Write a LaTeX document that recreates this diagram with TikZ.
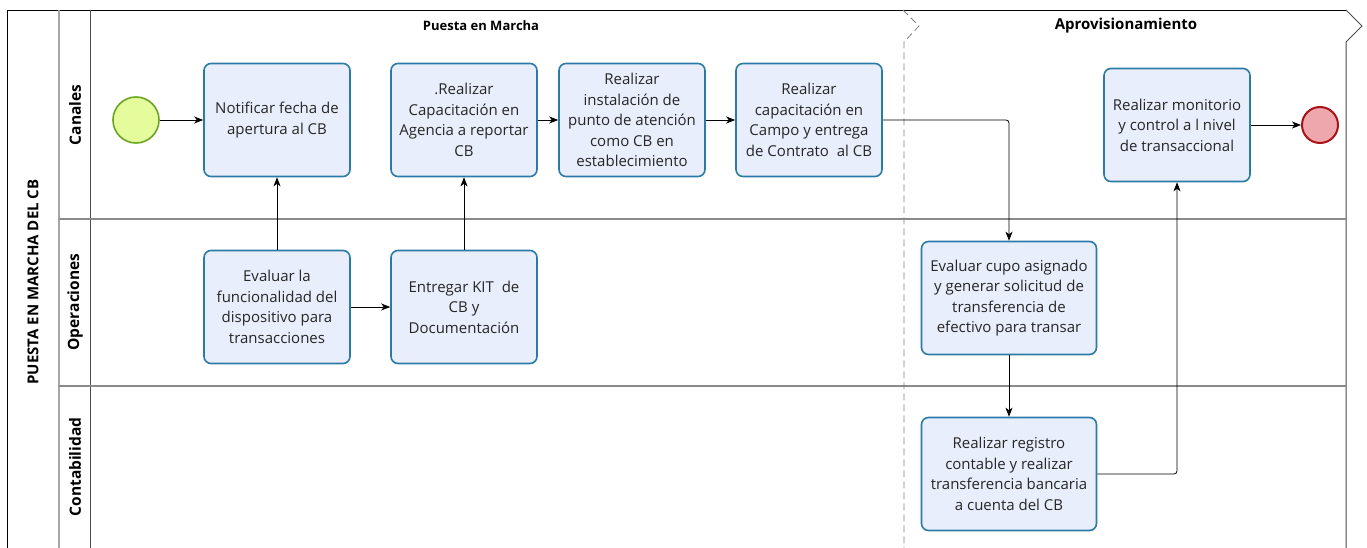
\documentclass[tikz,border=0pt]{standalone}
\usepackage{fontspec}
\setmainfont{Open Sans}
\usetikzlibrary{arrows.meta}
\definecolor{boxfill}{HTML}{E9EEFC}
\definecolor{boxline}{HTML}{2C7BA6}
\definecolor{startfill}{HTML}{E4FC9C}
\definecolor{startline}{HTML}{6BA424}
\definecolor{endfill}{HTML}{EEA8AD}
\definecolor{endline}{HTML}{A8121B}
\definecolor{lanegray}{HTML}{8A8A8A}
\tikzset{
  task/.style={draw=boxline, line width=1.6pt, fill=boxfill, rounded corners=7pt,
    minimum width=146pt, minimum height=113pt, align=center, inner sep=1pt,
    font=\fontsize{15}{20.5}\selectfont, text=black!85},
  flow/.style={-{Stealth[length=9pt,width=7pt,inset=2.5pt]}, line width=0.8pt, black},
  lanelbl/.style={rotate=90, font=\bfseries\fontsize{15.5}{17}\selectfont},
  sep/.style={draw=lanegray, line width=1.4pt},
}
\begin{document}
\begin{tikzpicture}[x=1pt,y=-1pt]
\useasboundingbox (0,0) rectangle (1367,548);
% frame
\draw[black, line width=0.8pt] (7,548) -- (7,10) -- (1346,10);
\draw[gray!70, line width=1.6pt] (59,10) -- (59,548);
\draw[black!70, line width=1pt] (90,10) -- (90,548);
\draw[black!70, line width=1pt] (1346,10) -- (1362,26) -- (1346,42) -- (1346,548);
% lanes
\draw[sep] (59,219) -- (1346,219);
\draw[sep] (59,386) -- (1346,386);
% phase divider
\draw[gray, dashed, dash pattern=on 7pt off 4pt, line width=0.8pt] (903,10) -- (919,26) -- (904,42) -- (904,548);
% labels
\node[rotate=90, font=\bfseries\fontsize{15}{17}\selectfont] (pool) at (33,282) {PUESTA EN MARCHA DEL CB};
\node[lanelbl] (l1) at (75,115) {Canales};
\node[lanelbl] (l2) at (75,302) {Operaciones};
\node[lanelbl] (l3) at (75,467) {Contabilidad};
\node[font=\bfseries\fontsize{13}{15}\selectfont] (ph1) at (481,26) {Puesta en Marcha};
\node[font=\bfseries\fontsize{15}{17}\selectfont] (ph2) at (1126,26) {Aprovisionamiento};
% events
\node[circle, draw=startline, fill=startfill, line width=1.6pt, minimum size=46pt, inner sep=0] (start) at (136,120) {};
\node[circle, draw=endline, fill=endfill, line width=2pt, minimum size=36pt, inner sep=0] (end) at (1320,125) {};
% tasks
\node[task] (b1) at (277,120) {Notificar fecha de\\apertura al CB};
\node[task] (b2) at (464,120) {.Realizar\\Capacitación en\\Agencia a reportar\\CB};
\node[task] (b3) at (632,120) {Realizar\\instalación de\\punto de atención\\como CB en\\establecimiento};
\node[task] (b4) at (809,120) {Realizar\\capacitación en\\Campo y entrega\\de Contrato\ \ al CB};
\node[task] (b5) at (1177,125) {Realizar monitorio\\y control a l nivel\\de transaccional};
\node[task] (b6) at (277,307) {Evaluar la\\funcionalidad del\\dispositivo para\\transacciones};
\node[task] (b7) at (464,307) {Entregar KIT\ \ de\\CB y\\Documentación};
\node[task, minimum width=175pt] (b8) at (1009,298) {Evaluar cupo asignado\\y generar solicitud de\\transferencia de\\efectivo para transar};
\node[task, minimum width=175pt] (b9) at (1009,474) {Realizar registro\\contable y realizar\\transferencia bancaria\\a cuenta del CB};
% flows
\draw[flow] (start) -- (b1);
\draw[flow] (b6) -- (b1);
\draw[flow] (b6) -- (b7);
\draw[flow] (b7) -- (b2);
\draw[flow] (b2) -- (b3);
\draw[flow] (b3) -- (b4);
\draw[flow, rounded corners=3pt] (b4.east) -| (b8.north);
\draw[flow] (b8) -- (b9);
\draw[flow, rounded corners=3pt] (b9.east) -| (b5.south);
\draw[flow] (b5) -- (end);
\end{tikzpicture}
\end{document}
